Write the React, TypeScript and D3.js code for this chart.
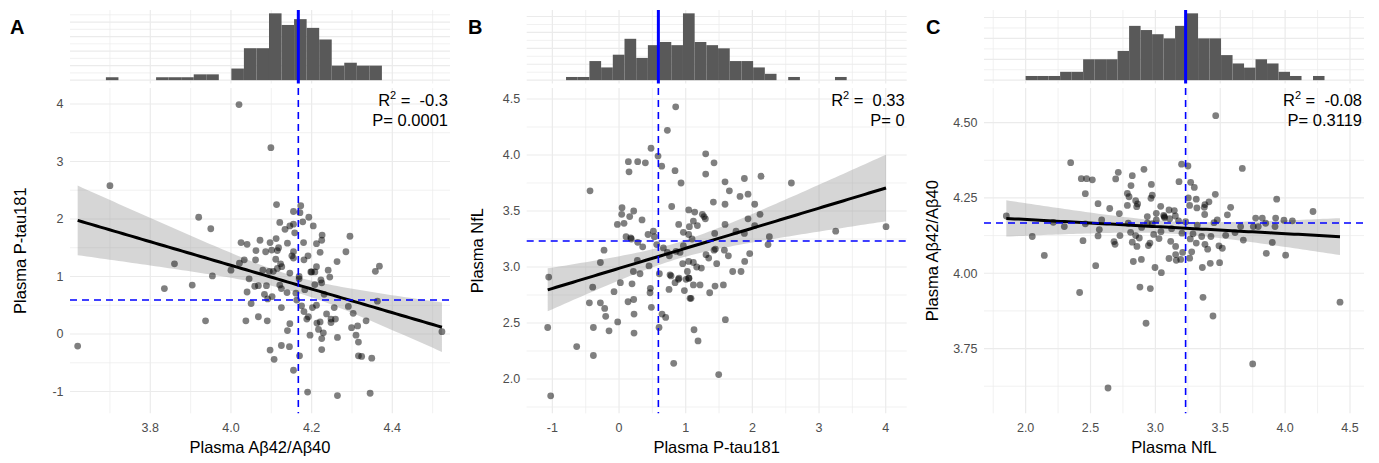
import React, { useEffect, useRef } from 'react';
import * as d3 from 'd3';

// ---- data ----

// A: Aβ42/Aβ40 (x) vs P-tau181 (y)
const abRatioA = [4.020, 4.099, 3.70, 3.92, 3.95, 3.86, 4.113, 4.155, 4.173, 4.171, 4.193, 4.121, 4.134, 4.146, 4.155, 4.178, 4.204, 4.226, 4.295, 4.285, 4.358, 4.368, 4.025, 4.040, 4.072, 4.097, 4.112, 4.140, 4.158, 4.180, 4.212, 4.225, 4.221, 4.062, 4.086, 4.101, 4.118, 4.115, 4.155, 4.151, 4.155, 4.181, 4.191, 4.021, 4.033, 4.061, 4.111, 4.123, 4.126, 4.115, 4.105, 4.095, 4.079, 4.000, 3.954, 4.045, 4.146, 4.169, 4.200, 4.212, 4.208, 4.241, 4.245, 4.263, 4.223, 3.62, 3.835, 3.904, 3.937, 4.037, 4.040, 4.050, 4.059, 4.068, 4.068, 4.083, 4.088, 4.090, 4.091, 4.102, 4.097, 4.107, 4.121, 4.125, 4.125, 4.125, 4.145, 4.139, 4.146, 4.140, 4.155, 4.163, 4.161, 4.170, 4.169, 4.175, 4.183, 4.181, 4.188, 4.192, 4.196, 4.198, 4.190, 4.202, 4.208, 4.212, 4.213, 4.217, 4.221, 4.225, 4.225, 4.225, 4.231, 4.229, 4.237, 4.248, 4.248, 4.256, 4.259, 4.264, 4.264, 4.291, 4.303, 4.299, 4.310, 4.314, 4.316, 4.316, 4.324, 4.335, 4.349, 4.345, 4.363, 4.523];
const ptauA = [3.99, 3.24, 2.58, 2.03, 1.83, 1.22, 2.25, 2.13, 2.23, 2.11, 2.03, 1.94, 1.82, 1.88, 1.91, 1.95, 1.88, 1.72, 1.70, 1.43, 1.09, 1.18, 1.59, 1.56, 1.63, 1.59, 1.66, 1.58, 1.76, 1.59, 1.57, 1.63, 1.42, 1.45, 1.43, 1.46, 1.50, 1.45, 1.43, 1.36, 1.32, 1.29, 1.36, 1.23, 1.29, 1.29, 1.30, 1.22, 1.17, 1.14, 1.09, 1.09, 1.11, 1.11, 1.01, 0.96, 1.06, 0.96, 1.08, 1.17, 1.08, 1.11, 0.99, 1.26, 0.94, -0.21, 0.79, 0.85, 0.23, 0.23, 0.73, 0.53, 0.83, 0.84, 0.30, 0.69, 0.84, 0.23, 0.61, 0.65, -0.28, -0.44, 0.85, 0.79, 0.46, -0.20, -0.22, 0.72, 0.18, 0.06, -0.63, 0.59, 0.71, -0.38, 1.00, 0.49, 0.77, 0.39, 0.26, 0.30, -0.02, 1.08, -1.01, 0.46, 0.86, 0.50, 0.19, 0.08, 0.21, 0.89, -0.08, -0.27, 0.69, 0.02, 0.35, 0.26, 0.20, 0.46, 0.26, -0.06, -1.07, 0.48, 0.36, 0.11, -0.02, 0.14, -0.14, -0.38, -0.39, 0.23, -0.42, -1.03, 0.57, 0.04];

// B: P-tau181 (x) vs NfL (y)
const ptauB = [0.85, 0.725, 0.48, 0.585, 0.14, 0.28, 0.395, 0.64, 0.84, 0.15, 1.30, 1.425, 1.30, 0.93, -0.435, 1.59, 1.655, 1.88, 2.13, 2.585, 1.815, 1.935, 0.79, 1.415, 1.59, 2.035, 0.045, 0.04, 0.22, 0.16, 0.345, -0.025, 0.075, 1.045, 1.135, 1.25, 1.275, 1.295, 1.115, 1.175, 1.055, 0.895, 1.59, 1.935, 2.115, 2.035, 3.25, 4.005, 0.515, 0.435, 0.53, 0.105, 0.175, 0.185, 0.28, 0.355, 0.565, 0.665, 0.965, 1.045, 1.095, 0.965, 1.435, 1.445, 1.58, 1.755, 1.88, 2.255, 2.235, -0.225, -0.28, 0.275, 0.215, 0.315, 0.45, 0.725, 0.755, 0.855, 0.915, 0.955, 1.045, 1.115, 1.165, 1.235, 1.305, 1.345, 1.425, 1.465, 1.64, 1.705, 1.83, 1.885, 1.96, 1.025, 0.605, 0.78, 0.90, 1.05, -1.055, -0.395, -0.075, 0.02, 0.195, 0.47, 0.465, 0.135, 0.22, -0.445, -0.28, -0.215, -0.20, -0.02, 0.225, 0.485, 0.645, 0.70, -1.07, -0.385, -0.15, 0.225, 0.60, -0.635, -0.385, -1.025, 0.82, 1.495, 1.125, 1.185, 1.595, 0.75, 0.89, 0.84, 1.005, 1.045, 1.115, 1.215, 0.98, 1.065, 1.08, 1.36, 1.44, 1.565, 0.765];
const nflB = [4.43, 4.22, 4.06, 3.99, 3.94, 3.94, 3.93, 3.90, 3.86, 3.85, 4.01, 3.93, 3.83, 3.75, 3.68, 3.76, 3.68, 3.79, 3.81, 3.75, 3.63, 3.65, 3.54, 3.58, 3.56, 3.56, 3.53, 3.47, 3.50, 3.45, 3.42, 3.38, 3.39, 3.51, 3.49, 3.47, 3.45, 3.43, 3.41, 3.37, 3.36, 3.38, 3.38, 3.43, 3.47, 3.37, 3.32, 3.36, 3.32, 3.29, 3.27, 3.27, 3.26, 3.25, 3.22, 3.18, 3.20, 3.17, 3.31, 3.29, 3.25, 3.19, 3.30, 3.16, 3.15, 3.32, 3.30, 3.27, 3.20, 3.15, 3.04, 3.06, 2.96, 2.94, 3.01, 3.13, 3.10, 3.14, 3.13, 3.03, 3.05, 3.04, 3.00, 2.99, 3.11, 3.08, 3.15, 3.03, 3.10, 2.96, 2.96, 3.05, 3.12, 2.96, 2.94, 2.92, 2.90, 2.90, 2.91, 2.82, 2.78, 2.86, 2.85, 2.81, 2.77, 2.69, 2.71, 2.68, 2.68, 2.63, 2.56, 2.51, 2.58, 2.64, 2.58, 2.55, 2.46, 2.46, 2.43, 2.41, 2.46, 2.29, 2.21, 1.85, 2.14, 2.04, 2.44, 2.34, 2.53, 2.80, 2.89, 2.86, 2.89, 2.90, 2.84, 2.84, 2.79, 2.72, 2.72, 2.77, 2.83, 2.84, 2.93];

// C: NfL (x) vs Aβ42/Aβ40 (y)
const nflC = [3.465, 2.347, 2.429, 2.470, 2.514, 2.460, 2.714, 2.694, 2.822, 2.812, 2.912, 2.969, 2.976, 2.784, 2.797, 2.848, 2.863, 2.558, 2.648, 2.722, 2.784, 2.856, 2.938, 3.007, 3.041, 3.064, 3.069, 3.105, 3.146, 3.182, 3.202, 3.251, 3.272, 3.300, 3.254, 3.315, 3.320, 3.264, 3.377, 3.382, 3.380, 3.413, 3.462, 3.580, 3.555, 3.670, 3.935, 4.215, 1.851, 2.051, 2.144, 2.213, 2.298, 2.442, 2.460, 2.558, 2.568, 2.586, 2.540, 2.681, 2.689, 2.727, 2.791, 2.809, 2.822, 2.848, 2.858, 2.876, 2.894, 2.938, 2.946, 2.958, 2.987, 2.976, 3.007, 3.028, 3.043, 3.071, 3.110, 3.118, 3.125, 3.154, 3.156, 3.156, 3.161, 3.179, 3.195, 3.210, 3.205, 3.233, 3.264, 3.280, 3.269, 3.290, 3.323, 3.315, 3.357, 3.362, 3.382, 3.403, 3.423, 3.428, 3.452, 3.477, 3.495, 3.490, 3.516, 3.542, 3.614, 3.657, 3.678, 3.755, 3.773, 3.793, 3.824, 3.850, 3.855, 3.901, 3.922, 3.927, 3.991, 4.004, 4.056, 2.997, 3.046, 2.830, 2.892, 3.105, 2.966, 2.416, 2.881, 2.961, 3.367, 3.444, 2.928, 3.750, 2.635, 4.423];
const abRatioC = [4.523, 4.367, 4.314, 4.314, 4.310, 4.264, 4.335, 4.313, 4.324, 4.291, 4.345, 4.295, 4.259, 4.265, 4.254, 4.241, 4.230, 4.231, 4.215, 4.198, 4.225, 4.221, 4.188, 4.199, 4.222, 4.192, 4.188, 4.210, 4.208, 4.304, 4.362, 4.356, 4.302, 4.285, 4.250, 4.246, 4.217, 4.225, 4.219, 4.228, 4.195, 4.237, 4.262, 4.219, 4.194, 4.348, 4.246, 4.205, 4.190, 4.122, 4.059, 4.169, 4.155, 4.108, 4.164, 4.124, 4.145, 4.177, 4.025, 4.105, 4.096, 4.125, 4.166, 4.136, 4.103, 4.125, 4.089, 4.117, 4.152, 4.166, 4.092, 4.100, 4.129, 4.164, 4.177, 4.115, 4.138, 4.184, 4.181, 4.106, 4.148, 4.190, 4.089, 4.062, 4.043, 4.174, 4.046, 4.069, 4.133, 4.171, 4.050, 4.071, 4.114, 4.131, 4.160, 4.100, 4.122, 4.019, 4.096, 4.080, 4.033, 4.122, 4.168, 4.177, 4.035, 4.091, 4.083, 4.126, 4.135, 4.155, 4.110, 4.155, 4.183, 4.155, 4.183, 4.166, 4.066, 4.102, 4.155, 4.183, 4.176, 4.060, 4.174, 4.019, 4.002, 4.039, 4.046, 4.049, 4.249, 3.936, 3.954, 3.949, 3.920, 3.858, 3.834, 3.699, 3.619, 3.904];

// marginal histograms: first bin edge, bin width, counts
const histStartA = 3.690;
const histWidthA = 0.0311;
const histCountsA = [1, 0, 0, 0, 1, 1, 1, 2, 2, 0, 4, 11, 11, 23, 19, 21, 18, 14, 5, 6, 5, 5];
const histStartB = -0.795;
const histWidthB = 0.1754;
const histCountsB = [1, 1, 6, 4, 8, 13, 7, 11, 12, 11, 21, 12, 11, 10, 6, 6, 4, 2, 0, 1, 0, 0, 0, 1];
const histStartC = 2.0;
const histWidthC = 0.0886;
const histCountsC = [1, 1, 1, 2, 2, 5, 5, 5, 7, 13, 12, 11, 10, 13, 16, 10, 10, 6, 4, 3, 5, 4, 2, 1, 0, 1];

// reference (mean) lines
const meanAbRatio = 4.167;
const meanPtau = 0.59;
const meanNfl = 3.233;

// axis ticks
const xTicksA = ['3.8', '4.0', '4.2', '4.4'];
const yTicksA = ['-1', '0', '1', '2', '3', '4'];
const xTicksB = ['-1', '0', '1', '2', '3', '4'];
const yTicksB = ['2.0', '2.5', '3.0', '3.5', '4.0', '4.5'];
const xTicksC = ['2.0', '2.5', '3.0', '3.5', '4.0', '4.5'];
const yTicksC = ['3.75', '4.00', '4.25', '4.50'];

const statsA = ['-0.3', '0.0001'];
const statsB = ['0.33', '0'];
const statsC = ['-0.08', '0.3119'];

const FONT = '"Liberation Sans", Arial, Helvetica, sans-serif';
const PANEL_TOP = 88, PANEL_BOTTOM = 413.3;
const HIST_TOP = 10, HIST_BOTTOM = 83.5;
const GRID = '#ebebeb';

const panels = [
	{ letter: 'A', left: 70, right: 450, xs: abRatioA, ys: ptauA, xDomain: [3.601, 4.543], yDomain: [-1.379, 4.278],
		xTicks: xTicksA, yTicks: yTicksA, hist: [histStartA, histWidthA, histCountsA], xRef: meanAbRatio, yRef: meanPtau,
		xTitle: 'Plasma Aβ42/Aβ40', yTitle: 'Plasma P-tau181', stats: statsA, titleX: 26, letterX: 10 },
	{ letter: 'B', left: 526.7, right: 906.7, xs: ptauB, ys: nflB, xDomain: [-1.385, 4.315], yDomain: [1.694, 4.598],
		xTicks: xTicksB, yTicks: yTicksB, hist: [histStartB, histWidthB, histCountsB], xRef: meanPtau, yRef: 3.232,
		xTitle: 'Plasma P-tau181', yTitle: 'Plasma NfL', stats: statsB, titleX: 483, letterX: 468 },
	{ letter: 'C', left: 984, right: 1364, xs: nflC, ys: abRatioC, xDomain: [1.679, 4.608], yDomain: [3.535, 4.615],
		xTicks: xTicksC, yTicks: yTicksC, hist: [histStartC, histWidthC, histCountsC], xRef: meanNfl, yRef: meanAbRatio,
		xTitle: 'Plasma NfL', yTitle: 'Plasma Aβ42/Aβ40', stats: statsC, titleX: 938, letterX: 926 },
];

// minor breaks halfway between the major ones, kept inside the domain
const minors = (ticks: number[], domain: number[]) => {
	const step = ticks[1] - ticks[0];
	const out: number[] = [];
	for (let v = ticks[0] - step / 2; v <= domain[1]; v += step) if (v >= domain[0]) out.push(v);
	return out;
};

// linear fit with 95% confidence band, like geom_smooth(method = "lm")
const lmFit = (xs: number[], ys: number[]) => {
	const n = xs.length;
	const mx = d3.mean(xs) as number, my = d3.mean(ys) as number;
	let sxx = 0, sxy = 0;
	xs.forEach((x, i) => { sxx += (x - mx) ** 2; sxy += (x - mx) * (ys[i] - my); });
	const b = sxy / sxx, a = my - b * mx;
	let sse = 0;
	xs.forEach((x, i) => { sse += (ys[i] - a - b * x) ** 2; });
	const s = Math.sqrt(sse / (n - 2));
	const t = 1.977;
	const [x0, x1] = d3.extent(xs) as [number, number];
	return d3.range(81).map(i => {
		const x = x0 + (x1 - x0) * i / 80;
		const yv = a + b * x;
		const se = s * Math.sqrt(1 / n + (x - mx) ** 2 / sxx);
		return { x, y: yv, lo: yv - t * se, hi: yv + t * se };
	});
};

const drawPanel = (svg: any, p: any) => {
	const g = svg.append('g');
	const x = d3.scaleLinear().domain(p.xDomain).range([p.left, p.right]);
	const y = d3.scaleLinear().domain(p.yDomain).range([PANEL_BOTTOM, PANEL_TOP]);
	const xMaj = p.xTicks.map(Number), yMaj = p.yTicks.map(Number);
	const [hStart, hWidth, hCounts] = p.hist;
	const maxC = d3.max(hCounts) as number;
	const yh = d3.scaleLinear().domain([-0.05 * maxC, 1.05 * maxC]).range([HIST_BOTTOM, HIST_TOP]);

	//#region grids
	const grid = g.append('g').attr('stroke', GRID).attr('fill', 'none');
	minors(xMaj, p.xDomain).forEach(v => {
		grid.append('line').attr('x1', x(v)).attr('x2', x(v)).attr('y1', PANEL_TOP).attr('y2', PANEL_BOTTOM).attr('stroke-width', 0.7);
		grid.append('line').attr('x1', x(v)).attr('x2', x(v)).attr('y1', HIST_TOP).attr('y2', HIST_BOTTOM).attr('stroke-width', 0.7);
	});
	minors(yMaj, p.yDomain).forEach(v => {
		grid.append('line').attr('x1', p.left).attr('x2', p.right).attr('y1', y(v)).attr('y2', y(v)).attr('stroke-width', 0.7);
	});
	xMaj.forEach(v => {
		grid.append('line').attr('x1', x(v)).attr('x2', x(v)).attr('y1', PANEL_TOP).attr('y2', PANEL_BOTTOM).attr('stroke-width', 1.2);
		grid.append('line').attr('x1', x(v)).attr('x2', x(v)).attr('y1', HIST_TOP).attr('y2', HIST_BOTTOM).attr('stroke-width', 1.2);
	});
	yMaj.forEach(v => {
		grid.append('line').attr('x1', p.left).attr('x2', p.right).attr('y1', y(v)).attr('y2', y(v)).attr('stroke-width', 1.2);
	});
	for (let c = 0; c <= 1.05 * maxC; c += 2.5) {
		grid.append('line').attr('x1', p.left).attr('x2', p.right).attr('y1', yh(c)).attr('y2', yh(c))
			.attr('stroke-width', c % 5 === 0 ? 1.2 : 0.7);
	}
	//#endregion

	// histogram
	g.append('g').selectAll('rect').data(hCounts.map((c: number, i: number) => ({ c, i })).filter((d: any) => d.c > 0))
		.join('rect')
		.attr('x', (d: any) => x(hStart + d.i * hWidth))
		.attr('width', (d: any) => x(hStart + (d.i + 1) * hWidth) - x(hStart + d.i * hWidth))
		.attr('y', (d: any) => yh(d.c))
		.attr('height', (d: any) => yh(0) - yh(d.c))
		.attr('fill', '#595959');
	g.append('line').attr('x1', x(p.xRef)).attr('x2', x(p.xRef)).attr('y1', HIST_TOP).attr('y2', HIST_BOTTOM)
		.attr('stroke', '#0000ff').attr('stroke-width', 3);

	// smoother
	const fit = lmFit(p.xs, p.ys);
	g.append('path').datum(fit)
		.attr('d', d3.area<any>().x(d => x(d.x)).y0(d => y(d.lo)).y1(d => y(d.hi)))
		.attr('fill', '#999999').attr('fill-opacity', 0.4);

	// points
	g.append('g').selectAll('circle').data(p.xs.map((v: number, i: number) => [v, p.ys[i]])).join('circle')
		.attr('cx', (d: any) => x(d[0])).attr('cy', (d: any) => y(d[1])).attr('r', 3.4)
		.attr('fill', '#000').attr('fill-opacity', 0.5);

	g.append('path').datum(fit)
		.attr('d', d3.line<any>().x(d => x(d.x)).y(d => y(d.y)))
		.attr('fill', 'none').attr('stroke', '#000').attr('stroke-width', 3);

	// mean lines
	g.append('line').attr('x1', x(p.xRef)).attr('x2', x(p.xRef)).attr('y1', PANEL_TOP).attr('y2', PANEL_BOTTOM)
		.attr('stroke', '#0000ff').attr('stroke-width', 1.6).attr('stroke-dasharray', '7,5');
	g.append('line').attr('x1', p.left).attr('x2', p.right).attr('y1', y(p.yRef)).attr('y2', y(p.yRef))
		.attr('stroke', '#0000ff').attr('stroke-width', 1.6).attr('stroke-dasharray', '7,5');

	// tick labels
	g.append('g').selectAll('text').data(p.xTicks).join('text')
		.attr('x', (d: string) => x(+d)).attr('y', 432).attr('text-anchor', 'middle')
		.attr('font-size', 12.5).attr('fill', '#4d4d4d').text((d: string) => d);
	g.append('g').selectAll('text').data(p.yTicks).join('text')
		.attr('x', p.left - 6.5).attr('y', (d: string) => y(+d)).attr('dy', '0.35em').attr('text-anchor', 'end')
		.attr('font-size', 12.5).attr('fill', '#4d4d4d').text((d: string) => d);

	// titles
	g.append('text').attr('x', (p.left + p.right) / 2).attr('y', 453).attr('text-anchor', 'middle')
		.attr('font-size', 16.5).attr('fill', '#000').text(p.xTitle);
	g.append('text').attr('transform', `translate(${p.titleX},${(PANEL_TOP + PANEL_BOTTOM) / 2}) rotate(-90)`)
		.attr('text-anchor', 'middle').attr('font-size', 16.5).attr('fill', '#000').text(p.yTitle);
	g.append('text').attr('x', p.letterX).attr('y', 34).attr('font-size', 20).attr('font-weight', 'bold')
		.attr('fill', '#000').text(p.letter);

	// stats
	const r2 = g.append('text').attr('x', p.right - 2).attr('y', 106).attr('text-anchor', 'end')
		.attr('font-size', 16.5).attr('fill', '#000').style('white-space', 'pre');
	r2.append('tspan').text('R');
	r2.append('tspan').attr('dy', -7).attr('font-size', 11).text('2');
	r2.append('tspan').attr('dy', 7).text(' =  ' + p.stats[0]);
	g.append('text').attr('x', p.right - 2).attr('y', 126).attr('text-anchor', 'end')
		.attr('font-size', 16.5).attr('fill', '#000').style('white-space', 'pre').text('P= ' + p.stats[1]);
};

export default function App() {
	const ref = useRef<SVGSVGElement>(null);
	useEffect(() => {
		const svg = d3.select(ref.current);
		svg.selectAll('*').remove();
		svg.append('rect').attr('width', 1379).attr('height', 463).attr('fill', '#fff');
		panels.forEach(p => drawPanel(svg, p));
	}, []);
	return (
		<svg ref={ref} width={1379} height={463}
			style={{ position: 'absolute', left: 0, top: 0, fontFamily: FONT }} />
	);
}
